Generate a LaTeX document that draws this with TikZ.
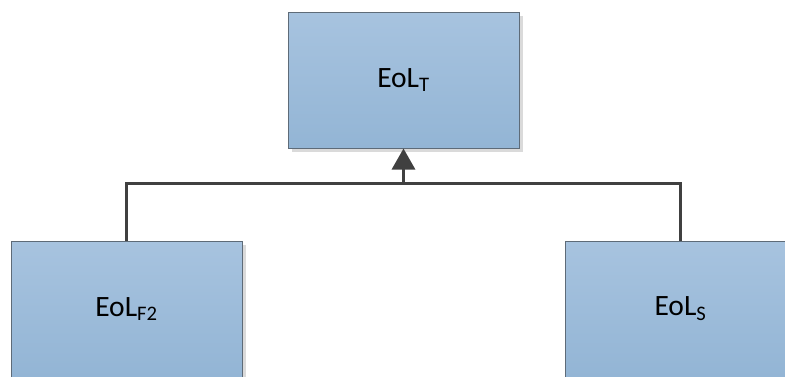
\documentclass[tikz,border=0pt]{standalone}
\usepackage{fontspec}
\setmainfont{Carlito}
\usetikzlibrary{arrows.meta,shadows}
\definecolor{boxtop}{HTML}{A7C3DF}
\definecolor{boxbot}{HTML}{93B5D5}
\definecolor{boxline}{HTML}{5E6B78}
\definecolor{conn}{HTML}{404040}
\definecolor{shade}{HTML}{DADADA}
\tikzset{
  blockbox/.style={draw=boxline, line width=1pt, top color=boxtop, bottom color=boxbot,
    minimum width=231pt, minimum height=136pt, inner sep=0pt,
    font=\fontsize{29.5}{32}\selectfont,
    drop shadow={shadow xshift=4pt, shadow yshift=-4pt, fill=shade, opacity=1}},
  connline/.style={draw=conn, line width=3pt}
}
\begin{document}
\begin{tikzpicture}[x=1pt,y=1pt]
\useasboundingbox (0,0) rectangle (785,-376);
\clip (0,0) rectangle (785,-376);
\node[blockbox] (t) at (403.5,-80) {EoL\textsubscript{T}};
\node[blockbox] (l) at (126.5,-309) {EoL\textsubscript{F2}};
\node[blockbox] (r) at (680.5,-309) {EoL\textsubscript{S}};
\coordinate (j) at (403.5,-183);
\draw[connline] (l.north) |- (j) -| (r.north);
\draw[connline,-{Triangle[width=23pt,length=21pt]}, fill=conn] (j) -- (t.south);
\end{tikzpicture}
\end{document}
